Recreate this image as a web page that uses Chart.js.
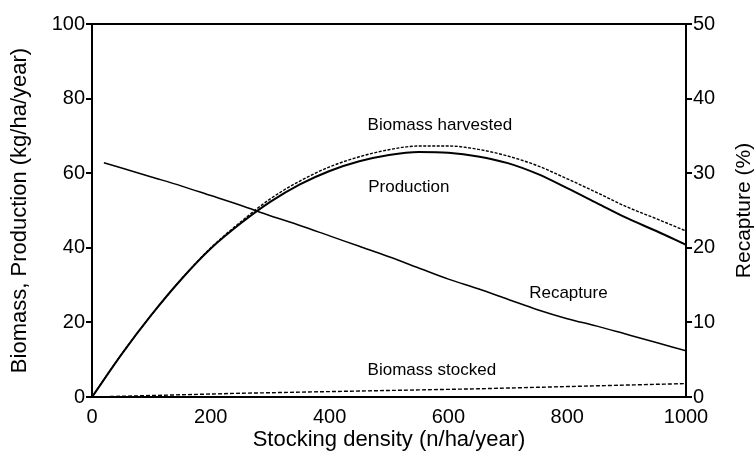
<!DOCTYPE html>
<html>
<head>
<meta charset="utf-8">
<script src="https://cdn.jsdelivr.net/npm/chart.js@4"></script>
<style>
  body { margin: 0; background: #fff; }
</style>
</head>
<body>
<canvas id="myChart" width="754" height="453"></canvas>
<script>
// Data
const stockingDensity = [0, 50, 100, 150, 200, 250, 300, 350, 400, 450, 500, 550, 600, 650, 700, 750, 800, 850, 900, 950, 1000];
const production = [0, 11.5, 22, 31.5, 39.8, 46.5, 52.3, 57, 60.6, 63.2, 64.9, 65.7, 65.5, 64.5, 62.7, 59.8, 56, 52, 48, 44.5, 40.8];
const harvested = [0, 11.5, 22, 31.5, 40, 46.9, 53.1, 57.9, 61.7, 64.4, 66.3, 67.3, 67.3, 66.4, 64.6, 62, 58.5, 54.8, 51, 47.8, 44.5];
const stocked = [0, 0.2, 0.4, 0.6, 0.8, 1.0, 1.15, 1.3, 1.45, 1.6, 1.75, 1.9, 2.05, 2.2, 2.4, 2.6, 2.8, 3.0, 3.2, 3.4, 3.6];
const recaptureDensity = [20, 50, 100, 150, 200, 250, 300, 350, 400, 450, 500, 550, 600, 650, 700, 750, 800, 850, 900, 950, 1000];
const recapture = [31.4, 30.7, 29.5, 28.3, 27.0, 25.7, 24.3, 23.0, 21.6, 20.2, 18.8, 17.3, 15.8, 14.5, 13.1, 11.7, 10.5, 9.5, 8.4, 7.3, 6.2];

// Tick labels
const xTicks = [0, 200, 400, 600, 800, 1000];
const leftTicks = [0, 20, 40, 60, 80, 100];
const rightTicks = [0, 10, 20, 30, 40, 50];

const toPoints = (xs, ys) => xs.map((x, i) => ({ x: x, y: ys[i] }));

const FONT = "'Liberation Sans', Arial, sans-serif";

// Curve labels, placed in data units
const curveLabels = [
  { text: 'Biomass harvested', x: 464, y: 72.9, axis: 'y' },
  { text: 'Production', x: 465, y: 56.3, axis: 'y' },
  { text: 'Recapture', x: 736, y: 13.9, axis: 'y2' },
  { text: 'Biomass stocked', x: 464, y: 7.2, axis: 'y' }
];

const fixWidth = w => scale => { scale.width = w; };
const plainTick = v => String(v);

const frameAndLabels = {
  id: 'frameAndLabels',
  afterDatasetsDraw(chart) {
    const ctx = chart.ctx;
    const a = chart.chartArea;
    ctx.save();
    // top edge of the box
    ctx.strokeStyle = '#000';
    ctx.lineWidth = 2;
    ctx.beginPath();
    ctx.moveTo(a.left, a.top);
    ctx.lineTo(a.right, a.top);
    ctx.stroke();

    ctx.fillStyle = '#000';
    ctx.font = '17px ' + FONT;
    ctx.textBaseline = 'middle';
    ctx.textAlign = 'left';
    curveLabels.forEach(l => {
      const px = chart.scales.x.getPixelForValue(l.x);
      const py = chart.scales[l.axis].getPixelForValue(l.y);
      ctx.fillText(l.text, px, py);
    });

    // right axis title, reading upwards like the left one
    ctx.font = '21px ' + FONT;
    ctx.textAlign = 'center';
    ctx.textBaseline = 'alphabetic';
    ctx.translate(chart.scales.y2.right - 4, (a.top + a.bottom) / 2);
    ctx.rotate(-Math.PI / 2);
    ctx.fillText('Recapture (%)', 0, 0);
    ctx.restore();
  }
};

const config = {
  type: 'line',
  data: {
    datasets: [
      {
        label: 'Production',
        data: toPoints(stockingDensity, production),
        borderColor: '#000',
        borderWidth: 2,
        yAxisID: 'y'
      },
      {
        label: 'Biomass harvested',
        data: toPoints(stockingDensity, harvested),
        borderColor: '#000',
        borderWidth: 1.4,
        borderDash: [3, 1.5],
        yAxisID: 'y'
      },
      {
        label: 'Biomass stocked',
        data: toPoints(stockingDensity, stocked),
        borderColor: '#000',
        borderWidth: 1.4,
        borderDash: [4, 2],
        yAxisID: 'y'
      },
      {
        label: 'Recapture',
        data: toPoints(recaptureDensity, recapture),
        borderColor: '#000',
        borderWidth: 1.5,
        yAxisID: 'y2'
      }
    ]
  },
  options: {
    responsive: false,
    animation: false,
    layout: { padding: { top: 24, left: 0, right: 0, bottom: 0 } },
    elements: {
      point: { radius: 0 },
      line: { tension: 0.4, cubicInterpolationMode: 'monotone', fill: false }
    },
    plugins: {
      legend: { display: false },
      tooltip: { enabled: false }
    },
    scales: {
      x: {
        type: 'linear',
        min: 0,
        max: 1000,
        afterBuildTicks: s => { s.ticks = xTicks.map(v => ({ value: v })); },
        afterFit: s => { s.height = 56; },
        ticks: { color: '#000', font: { family: FONT, size: 20 }, padding: 0, maxRotation: 0, callback: plainTick },
        grid: { display: false },
        border: { color: '#000', width: 2 },
        title: {
          display: true,
          text: 'Stocking density (n/ha/year)',
          color: '#000',
          font: { family: FONT, size: 22 },
          padding: { top: 0, bottom: 0 }
        }
      },
      y: {
        position: 'left',
        min: 0,
        max: 100,
        afterBuildTicks: s => { s.ticks = leftTicks.map(v => ({ value: v })); },
        afterFit: fixWidth(92),
        ticks: { color: '#000', font: { family: FONT, size: 20 }, padding: 1, callback: plainTick },
        grid: { drawOnChartArea: false, drawTicks: true, tickLength: 6, color: '#000', lineWidth: 2 },
        border: { color: '#000', width: 2 },
        title: {
          display: true,
          text: 'Biomass, Production (kg/ha/year)',
          color: '#000',
          font: { family: FONT, size: 22 },
          padding: { top: 7, bottom: 0 }
        }
      },
      y2: {
        position: 'right',
        min: 0,
        max: 50,
        afterBuildTicks: s => { s.ticks = rightTicks.map(v => ({ value: v })); },
        afterFit: fixWidth(68),
        ticks: { color: '#000', font: { family: FONT, size: 20 }, padding: 1, callback: plainTick },
        grid: { drawOnChartArea: false, drawTicks: true, tickLength: 6, color: '#000', lineWidth: 2 },
        border: { color: '#000', width: 2 }
      }
    }
  },
  plugins: [frameAndLabels]
};

const myChart = new Chart(document.getElementById('myChart'), config);
</script>
</body>
</html>
